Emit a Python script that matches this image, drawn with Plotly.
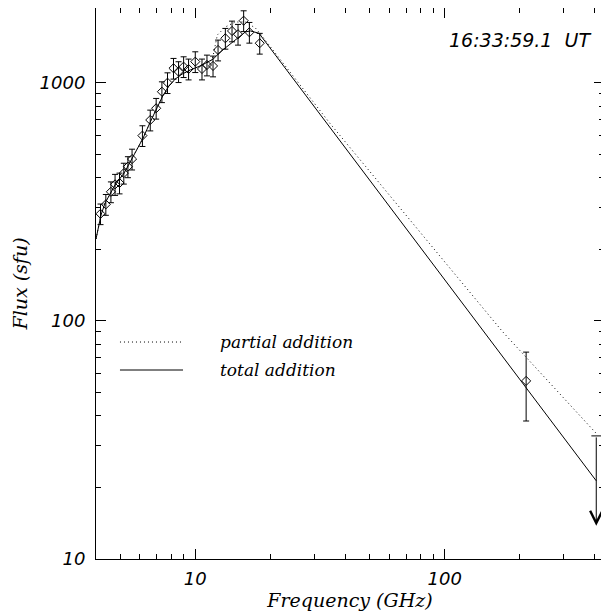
import numpy as np
import plotly.graph_objects as go

# Observed spectrum (GHz, sfu)
obs_freq = [4.17, 4.38, 4.59, 4.77, 4.97, 5.17, 5.37, 5.58, 6.14, 6.60, 6.97, 7.35, 7.74,
            8.18, 8.57, 8.98, 9.40, 10.0, 10.64, 11.14, 11.78, 12.34, 13.20, 14.04, 14.84,
            15.63, 16.48, 18.13, 212.0]
obs_flux = [282, 309, 349, 375, 380, 418, 445, 479, 601, 699, 783, 919, 1003,
            1153, 1116, 1171, 1145, 1229, 1145, 1190, 1179, 1376, 1541, 1654, 1602,
            1827, 1633, 1469, 56]
obs_err = [28, 31, 35, 38, 38, 42, 45, 48, 60, 70, 78, 92, 100,
           115, 112, 117, 115, 123, 115, 119, 118, 138, 154, 165, 160,
           183, 163, 147, 18]

# Upper limit at 405 GHz
lim_freq = 405.0
lim_top = 32.9
lim_tip = 13.8

# Model: total addition (solid)
tot_freq = [4.0, 4.19, 4.35, 4.77, 5.19, 5.58, 6.18, 6.60, 6.97, 7.37, 7.79, 8.31, 8.87,
            9.55, 10.47, 11.81, 12.60, 13.82, 14.75, 15.88, 16.63, 18.0, 405.0]
tot_flux = [221, 279, 313, 373, 419, 484, 587, 686, 770, 873, 962, 1039, 1091,
            1134, 1179, 1261, 1350, 1458, 1538, 1638, 1654, 1618, 21.3]

# Model: partial addition (dotted)
par_freq = [4.0, 4.19, 4.35, 4.77, 5.19, 5.58, 6.18, 6.60, 6.97, 7.37, 7.79, 8.31, 8.87,
            9.55, 10.47, 11.70, 12.26, 13.20, 14.47, 15.88, 17.42, 18.3, 34.8, 170.5, 405.0]
par_flux = [221, 279, 313, 373, 419, 484, 587, 686, 770, 873, 962, 1039, 1091,
            1134, 1179, 1250, 1591, 1719, 1804, 1804, 1702, 1600, 673, 90.2, 33.7]

x_major = [10, 100]
y_major = [10, 100, 1000]
x_minor = [5, 6, 7, 8, 9, 20, 30, 40, 50, 60, 70, 80, 90, 200, 300, 400]
y_minor = [20, 30, 40, 50, 60, 70, 80, 90, 200, 300, 400, 500, 600, 700, 800, 900]

serif = "DejaVu Serif"
sans = "DejaVu Sans"
dotted = "1px,3px"

fig = go.Figure()

fig.add_trace(go.Scatter(x=par_freq, y=par_flux, mode="lines",
                         line=dict(color="black", width=1, dash=dotted),
                         showlegend=False, hoverinfo="skip"))
fig.add_trace(go.Scatter(x=tot_freq, y=tot_flux, mode="lines",
                         line=dict(color="black", width=1),
                         showlegend=False, hoverinfo="skip"))
fig.add_trace(go.Scatter(x=obs_freq, y=obs_flux, mode="markers",
                         marker=dict(symbol="diamond-open", size=7, color="black",
                                     line=dict(width=1, color="black")),
                         error_y=dict(type="data", array=obs_err, color="black",
                                      thickness=1, width=3),
                         showlegend=False))
# upper-limit cap
fig.add_trace(go.Scatter(x=[lim_freq], y=[lim_top], mode="markers",
                         marker=dict(symbol="line-ew", size=7, color="black",
                                     line=dict(width=1, color="black")),
                         showlegend=False, hoverinfo="skip"))
fig.add_annotation(x=np.log10(lim_freq), y=np.log10(lim_tip),
                   ax=np.log10(lim_freq), ay=np.log10(lim_top),
                   xref="x", yref="y", axref="x", ayref="y",
                   showarrow=True, arrowhead=5, arrowsize=2.4, arrowwidth=1,
                   arrowcolor="black", text="")

# legend (drawn manually)
fig.add_shape(type="line", xref="paper", yref="paper", x0=0.0472, x1=0.1713,
              y0=0.3938, y1=0.3938, line=dict(color="black", width=1, dash=dotted))
fig.add_shape(type="line", xref="paper", yref="paper", x0=0.0472, x1=0.1713,
              y0=0.343, y1=0.343, line=dict(color="black", width=1))
fig.add_annotation(x=0.240, y=0.3938, xref="paper", yref="paper", text="partial addition",
                   showarrow=False, xanchor="left", yanchor="middle",
                   font=dict(family=serif, size=17, color="black", style="italic"))
fig.add_annotation(x=0.240, y=0.343, xref="paper", yref="paper", text="total addition",
                   showarrow=False, xanchor="left", yanchor="middle",
                   font=dict(family=serif, size=17, color="black", style="italic"))
fig.add_annotation(x=0.978, y=0.942, xref="paper", yref="paper", text="16:33:59.1  UT",
                   showarrow=False, xanchor="right", yanchor="middle",
                   font=dict(family=sans, size=19, color="black", style="italic"))

axis_common = dict(type="log", showgrid=False, zeroline=False, showline=True,
                   linecolor="black", linewidth=1, mirror="ticks", ticks="inside",
                   ticklen=10, tickwidth=1, tickcolor="black",
                   tickfont=dict(family=sans, size=18, color="black", style="italic"))

fig.update_xaxes(**axis_common, range=[np.log10(4), np.log10(435)],
                 tickmode="array", tickvals=x_major, ticktext=[str(v) for v in x_major],
                 minor=dict(ticks="inside", ticklen=5, tickwidth=1, tickcolor="black",
                            tickmode="array", tickvals=x_minor, showgrid=False),
                 ticklabelstandoff=3,
                 title=dict(text="Frequency (GHz)", standoff=4,
                            font=dict(family=serif, size=19, color="black", style="italic")))
fig.update_yaxes(**axis_common, range=[1, 3.315],
                 tickmode="array", tickvals=y_major, ticktext=[str(v) for v in y_major],
                 minor=dict(ticks="inside", ticklen=5, tickwidth=1, tickcolor="black",
                            tickmode="array", tickvals=y_minor, showgrid=False),
                 ticklabelstandoff=6,
                 title=dict(text="Flux (sfu)", standoff=6,
                            font=dict(family=serif, size=19, color="black", style="italic")))

# page body adds an 8px margin, so the figure is sized to fit the window
fig.update_layout(width=601, height=605, margin=dict(l=88, r=5, t=0, b=54),
                  paper_bgcolor="white", plot_bgcolor="white", showlegend=False)

fig.write_html("out.html")
